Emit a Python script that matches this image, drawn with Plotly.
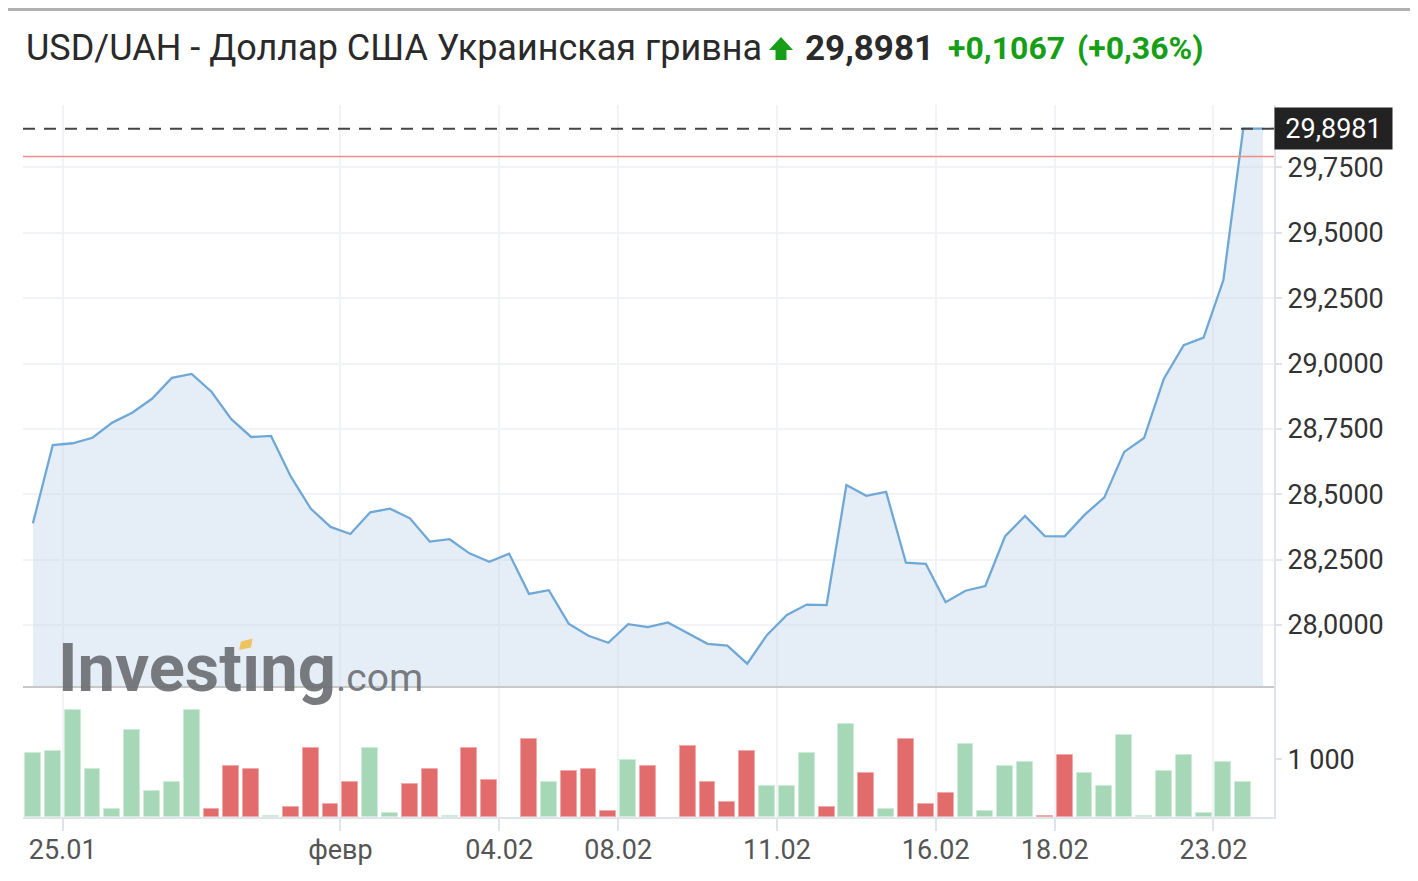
import plotly.graph_objects as go


# ==========================================
# DATA
# ==========================================

close = [
    28.389, 28.688, 28.695, 28.716, 28.774, 28.812, 28.865, 28.945, 28.960, 28.892,
    28.787, 28.719, 28.723, 28.567, 28.445, 28.375, 28.348, 28.431, 28.445, 28.408,
    28.319, 28.328, 28.274, 28.242, 28.273, 28.119, 28.133, 28.005, 27.959, 27.932,
    28.003, 27.992, 28.010, 27.968, 27.928, 27.921, 27.852, 27.962, 28.038, 28.078,
    28.076, 28.535, 28.494, 28.509, 28.238, 28.234, 28.087, 28.131, 28.149, 28.340,
    28.417, 28.340, 28.339, 28.421, 28.488, 28.662, 28.715, 28.942, 29.070, 29.099,
    29.319, 29.898, 29.8981
]

volume = [
    1114, 1148, 1850, 838, 143, 1500, 453, 609, 1850, 143,
    879, 838, 22, 178, 1190, 217, 609, 1190, 62, 569,
    838, 22, 1190, 643, 0, 1345, 609, 798, 838, 103,
    993, 879, 0, 1229, 609, 259, 1148, 528, 528, 1114,
    178, 1614, 764, 143, 1345, 217, 414, 1269, 103, 879,
    953, 22, 1074, 764, 528, 1424, 22, 798, 1074, 62,
    953, 609, 0
]

# 1 = up (green), 0 = down (red)
volume_up = [
    1, 1, 1, 1, 1, 1, 1, 1, 1, 0,
    0, 0, 1, 0, 0, 0, 0, 1, 1, 0,
    0, 1, 0, 0, 0, 0, 1, 0, 0, 0,
    1, 0, 0, 0, 0, 0, 0, 1, 1, 1,
    0, 1, 0, 1, 0, 0, 0, 1, 1, 1,
    1, 0, 0, 1, 1, 1, 1, 1, 1, 1,
    1, 1, 1
]

date_ticks = [1.5, 15.5, 23.5, 29.5, 37.5, 45.5, 51.5, 59.5]
date_labels = ["25.01", "февр", "04.02", "08.02", "11.02", "16.02", "18.02", "23.02"]

price_ticks = [28.0, 28.25, 28.5, 28.75, 29.0, 29.25, 29.5, 29.75]
volume_ticks = [1000]

pair_name = "USD/UAH - Доллар США Украинская гривна"
last_price = 29.8981
prev_close = 29.7914
change = "+0,1067"
change_pct = "(+0,36%)"

GREEN = "rgb(166,216,183)"
RED = "rgb(226,108,108)"
UP_TEXT = "#179e17"
FONT = "Roboto"

x_idx = list(range(len(close)))


# page pixel -> paper coordinates
# (page has an 8px body margin, plot area spans x 23..1274, y 105..817)
def px(x):
    return (x - 23) / 1251


def py(y):
    return (817 - y) / 712


def path_from(points):
    return "M " + " L ".join(f"{px(a)},{py(b)}" for a, b in points) + " Z"


# ==========================================
# CREATE FIGURE
# ==========================================

fig = go.Figure()

# Price area
fig.add_trace(
    go.Scatter(
        x=x_idx,
        y=close,
        mode="lines",
        line=dict(color="#6fa8d6", width=2.3),
        fill="tozeroy",
        fillcolor="rgba(198,218,234,0.45)",
        xaxis="x",
        yaxis="y",
        showlegend=False
    )
)

# Volume bars
fig.add_trace(
    go.Bar(
        x=x_idx,
        y=volume,
        width=0.8,
        marker=dict(
            color=[GREEN if u else RED for u in volume_up],
            line=dict(
                color=["rgb(205,236,215)" if u else "rgb(240,170,170)" for u in volume_up],
                width=[1 if v > 0 else 0 for v in volume]
            )
        ),
        xaxis="x",
        yaxis="y2",
        showlegend=False
    )
)

split = (817 - 687) / 712

fig.update_layout(
    width=1410,
    height=873,
    margin=dict(l=15, r=144, t=97, b=64),
    paper_bgcolor="white",
    plot_bgcolor="white",
    separators=", ",
    font=dict(family=FONT, color="#333"),
    bargap=0,
    xaxis=dict(
        anchor="y2",
        range=[-0.5, 62.55],
        tickvals=date_ticks,
        ticktext=date_labels,
        showgrid=True,
        gridcolor="#f2f3f6",
        gridwidth=2,
        zeroline=False,
        showline=True,
        linecolor="#e0e3eb",
        linewidth=2,
        ticks="outside",
        ticklen=12,
        tickwidth=2,
        tickcolor="#e0e3eb",
        ticklabelstandoff=-4,
        tickfont=dict(size=27, color="#555")
    ),
    yaxis=dict(
        domain=[split, 1],
        anchor="x",
        side="right",
        range=[28 - 62 / 261.5, 28 + 520 / 261.5],
        tickvals=price_ticks,
        tickformat=".4f",
        showgrid=True,
        gridcolor="#f2f3f6",
        gridwidth=2,
        zeroline=False,
        showline=True,
        linecolor="#e0e3eb",
        linewidth=2,
        ticks="outside",
        ticklen=6,
        tickwidth=2,
        tickcolor="#e0e3eb",
        tickfont=dict(size=27, color="#333")
    ),
    yaxis2=dict(
        domain=[0, split],
        anchor="x",
        side="right",
        range=[0, 2246],
        tickvals=volume_ticks,
        tickformat=",d",
        showgrid=False,
        zeroline=False,
        showline=True,
        linecolor="#e0e3eb",
        linewidth=2,
        ticks="outside",
        ticklen=6,
        tickwidth=2,
        tickcolor="#e0e3eb",
        tickfont=dict(size=27, color="#333")
    )
)

# ==========================================
# REFERENCE LINES
# ==========================================

# Last price (dashed)
fig.add_shape(
    type="line", xref="paper", yref="y",
    x0=0, x1=1, y0=last_price, y1=last_price,
    line=dict(color="#444", width=2, dash="12px,9px"),
    layer="above"
)

# Previous close
fig.add_shape(
    type="line", xref="paper", yref="y",
    x0=0, x1=1, y0=prev_close, y1=prev_close,
    line=dict(color="#f28b8b", width=1.5),
    layer="above"
)

# Panel separator
fig.add_shape(
    type="line", xref="paper", yref="y domain",
    x0=0, x1=1, y0=0, y1=0,
    line=dict(color="#c8c8c8", width=2),
    layer="above"
)

# Top border of page
fig.add_shape(
    type="rect", xref="paper", yref="paper",
    x0=px(0), x1=px(1418), y0=py(11), y1=py(8),
    line=dict(width=0),
    fillcolor="#b0b0b0"
)

# Up arrow in the title
fig.add_shape(
    type="path", xref="paper", yref="paper",
    path=path_from([
        (781, 37), (793, 50), (786.5, 50), (786.5, 60),
        (775.5, 60), (775.5, 50), (769, 50)
    ]),
    line=dict(width=0),
    fillcolor=UP_TEXT
)

# Orange accent of the watermark
fig.add_shape(
    type="path", xref="paper", yref="paper",
    path=path_from([(239, 650), (241, 641.5), (252.5, 638.5), (251, 647.5)]),
    line=dict(width=0),
    fillcolor="rgba(240,190,80,0.9)",
    layer="above"
)

# ==========================================
# ANNOTATIONS
# ==========================================

last_text = f"{last_price:.4f}".replace(".", ",")

# Last price label
fig.add_annotation(
    xref="paper", yref="y",
    x=1, y=last_price,
    xanchor="left", yanchor="middle",
    text=last_text,
    showarrow=False,
    bgcolor="#222",
    borderpad=0,
    width=117,
    height=41,
    font=dict(family=FONT, size=27, color="white")
)

# Title pieces
title_parts = [
    (24, pair_name, 36, "#2a2a2a", False),
    (803, last_text, 35, "#2a2a2a", True),
    (946, change, 32, UP_TEXT, True),
    (1075, change_pct, 32, UP_TEXT, True),
]

for x0, txt, size, color, bold in title_parts:
    fig.add_annotation(
        xref="paper", yref="paper",
        x=px(x0), y=py(48),
        xanchor="left", yanchor="middle",
        text=f"<b>{txt}</b>" if bold else txt,
        showarrow=False,
        font=dict(family=FONT, size=size, color=color)
    )

# Watermark
fig.add_annotation(
    xref="paper", yref="paper",
    x=px(56), y=py(668),
    xanchor="left", yanchor="middle",
    text="<b>Investıng</b><span style='font-size:39px'>.com</span>",
    showarrow=False,
    font=dict(family=FONT, size=67, color="rgba(105,108,112,0.9)")
)

fig.write_html("out.html")
